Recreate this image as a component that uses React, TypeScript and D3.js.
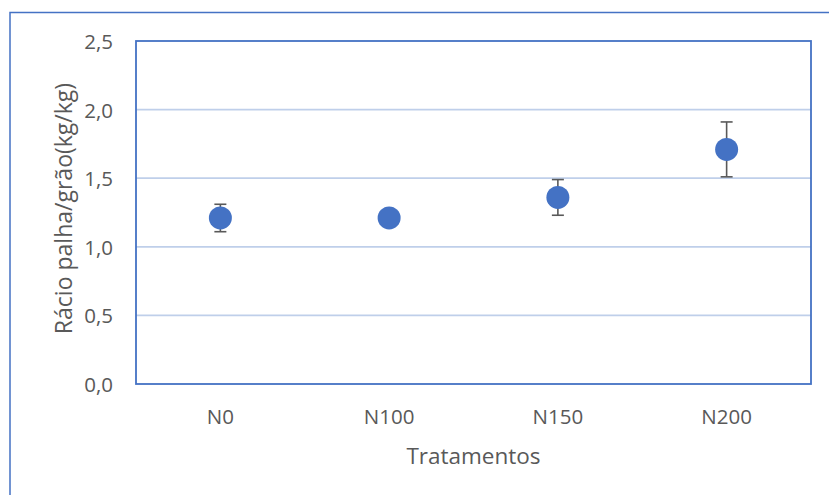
import { scaleBand, scaleLinear } from 'd3';

const categories = ['N0', 'N100', 'N150', 'N200'];
const means = [1.21, 1.21, 1.36, 1.71];
const errLow = [1.11, 1.2, 1.23, 1.51];
const errHigh = [1.31, 1.22, 1.49, 1.91];
const yTicks = [0, 0.5, 1.0, 1.5, 2.0, 2.5];

const yTitle = 'Rácio palha/grão(kg/kg)';
const xTitle = 'Tratamentos';

const W = 829;
const H = 495;
const plot = { left: 136, right: 811, top: 41, bottom: 384 };
const font = '"Open Sans", sans-serif';
const textColor = '#595959';
const blue = '#4472C4';

export default function App() {
  const x = scaleBand<string>().domain(categories).range([plot.left, plot.right]);
  const y = scaleLinear().domain([0, 2.5]).range([plot.bottom, plot.top]);
  const fmt = (v: number) => v.toFixed(1).replace('.', ',');

  return (
    <svg width={W} height={H} style={{ position: 'absolute', left: 0, top: 0, background: '#fff' }}>
      {/* outer chart border */}
      <rect x={10} y={12.5} width={840} height={500} fill="#fff" stroke={blue} strokeWidth={1.5} />

      {/* gridlines */}
      {yTicks.filter(t => t > 0 && t < 2.5).map(t => (
        <line key={t} x1={plot.left} x2={plot.right} y1={y(t)} y2={y(t)} stroke="#BFCFEA" strokeWidth={1.7} />
      ))}

      {/* plot area border */}
      <rect x={plot.left} y={plot.top} width={plot.right - plot.left} height={plot.bottom - plot.top}
        fill="none" stroke={blue} strokeWidth={1.8} />

      {/* y tick labels */}
      {yTicks.map(t => (
        <text key={t} x={113} y={y(t)} textAnchor="end" dominantBaseline="central"
          fontFamily={font} fontSize={20.5} fill={textColor}>{fmt(t)}</text>
      ))}

      {/* x tick labels */}
      {categories.map(c => (
        <text key={c} x={(x(c) || 0) + x.bandwidth() / 2} y={416} textAnchor="middle" dominantBaseline="central"
          fontFamily={font} fontSize={20.5} fill={textColor}>{c}</text>
      ))}

      {/* error bars */}
      {categories.map((c, i) => {
        const cx = (x(c) || 0) + x.bandwidth() / 2;
        return (
          <g key={c} stroke="#595959" strokeWidth={1.6}>
            <line x1={cx} x2={cx} y1={y(errLow[i])} y2={y(errHigh[i])} />
            <line x1={cx - 6} x2={cx + 6} y1={y(errLow[i])} y2={y(errLow[i])} />
            <line x1={cx - 6} x2={cx + 6} y1={y(errHigh[i])} y2={y(errHigh[i])} />
          </g>
        );
      })}

      {/* markers */}
      {categories.map((c, i) => (
        <circle key={c} cx={(x(c) || 0) + x.bandwidth() / 2} cy={y(means[i])} r={11.5} fill={blue} />
      ))}

      {/* axis titles */}
      <text x={(plot.left + plot.right) / 2} y={455} textAnchor="middle" dominantBaseline="central"
        fontFamily={font} fontSize={22.5} fill={textColor}>{xTitle}</text>
      <text transform={`translate(63,${(plot.top + plot.bottom) / 2 - 4}) rotate(-90)`} textAnchor="middle"
        dominantBaseline="central" fontFamily={font} fontSize={23} fill={textColor}>{yTitle}</text>
    </svg>
  );
}
